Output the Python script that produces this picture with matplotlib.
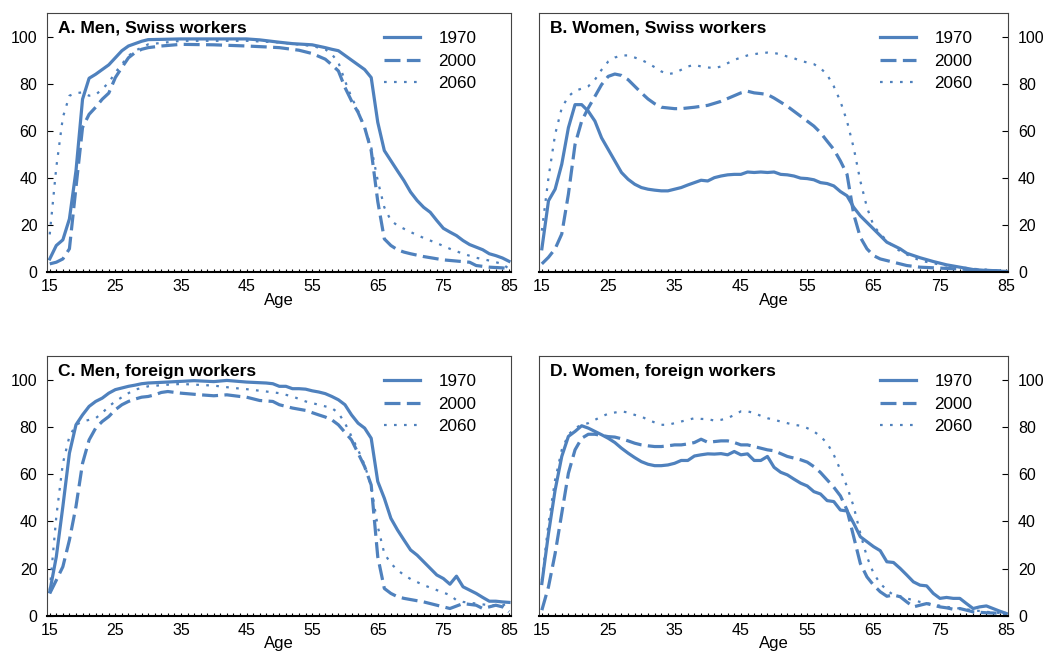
import matplotlib.pyplot as plt
from matplotlib.ticker import MultipleLocator

# Panel A - men, Swiss workers
a70_age = [15, 16, 17, 18, 19, 20, 21, 22, 23, 24, 25, 26, 27, 28, 29, 30, 35, 40, 45, 47, 50, 52, 55, 57, 58, 59, 60, 61, 62, 63, 64, 65, 66, 67, 68, 69, 70, 71, 72, 73, 74, 75, 76, 77, 78, 79, 80, 81, 82, 83, 84, 85]
a70 = [5.6, 11.3, 13.7, 22.6, 43, 73.4, 82.3, 84, 86, 88, 91, 94, 96, 97, 98, 98.7, 99, 99, 99, 98.6, 97.6, 97, 96.5, 95.3, 94.6, 94, 92, 90, 88, 86, 82.6, 63.6, 51.6, 47.3, 43, 38.8, 34, 30.4, 27.5, 25.4, 21.9, 18.6, 17, 15.5, 13.4, 11.7, 10.6, 9.5, 7.8, 7, 6, 4.6]
a00_age = [15, 16, 17, 18, 19, 20, 21, 22, 23, 24, 25, 26, 27, 28, 29, 30, 32, 35, 40, 45, 48, 50, 53, 55, 57, 58, 59, 60, 61, 62, 63, 64, 65, 66, 67, 68, 69, 70, 72, 75, 77, 79, 80, 82, 84, 85]
a00 = [3.5, 4.2, 5.6, 9.9, 36, 61.4, 67, 70, 73.4, 76, 82.6, 86.9, 91, 93.2, 94.6, 95.3, 96, 96.7, 96.5, 96, 95.6, 95.3, 94.2, 92.8, 90.4, 88, 85.4, 78.4, 72.7, 67.8, 61.4, 51.6, 30, 14.1, 11.3, 9.5, 8.5, 7.8, 6.6, 5.2, 4.7, 4.2, 2.8, 2.1, 1.8, 1.4]
a60_age = [15, 16, 17, 18, 19, 20, 21, 22, 23, 24, 25, 26, 27, 28, 29, 30, 35, 40, 45, 50, 55, 57, 58, 59, 60, 61, 62, 63, 64, 65, 66, 67, 68, 69, 70, 72, 74, 76, 78, 80, 82, 84, 85]
a60 = [16, 44.5, 65.7, 74.9, 76, 76.3, 74.9, 75.3, 77.7, 80.5, 84.7, 88.3, 91.8, 94, 95.3, 96.7, 98.2, 98.2, 98.2, 97.5, 96, 94.6, 92.5, 89, 81.2, 74.2, 68.5, 61.4, 53, 38.8, 27.5, 21.9, 19.8, 18.4, 17, 14.5, 12.3, 9.9, 7.8, 6.1, 4.9, 3.5, 1.4]

# Panel B - women, Swiss workers
b70_age = list(range(15, 71)) + [72, 74, 76, 78, 80, 82, 85]
b70 = [9.9, 30.3, 35.2, 45.8, 61.3, 71.1, 71.1, 68.3, 64.1, 57, 52.1, 47.2, 42.3, 39.4, 37.3, 35.9, 35.2, 34.8, 34.5, 34.5,
       35.2, 35.9, 37, 38, 39, 38.7, 40.1, 40.8, 41.3, 41.5, 41.5, 42.5, 42.3, 42.5, 42.3, 42.5, 41.5, 41.3, 40.8, 39.9,
       39.7, 39.2, 38, 37.6, 36.6, 34.2, 32.4, 27.5, 23.9, 21.1, 18.3, 15.5, 12.7, 11.3, 9.9, 8,
       6.1, 4.5, 3.1, 2.1, 1.1, 0.7, 0.3]
b00_age = list(range(15, 41)) + [42, 44, 45, 46, 47, 48, 49, 50, 52, 54, 56, 57, 58, 59, 60, 61, 62, 63, 64, 65, 66, 67, 68, 70, 72, 75, 78, 80, 85]
b00 = [3.5, 6.3, 9.9, 16.2, 33.1, 54.2, 64.1, 69.7, 74.6, 79.6, 83.1, 84.1, 83.5, 81.7, 78.9, 76.1, 73.5, 71.5, 70, 69.7,
       69.4, 69.4, 69.7, 70, 70.4, 70.8,
       72.5, 74.9, 76.1, 76.8, 76.1, 75.8, 75.4, 73.9, 70.4, 66.2, 62, 59.2, 55.6, 52.1, 47.2, 41.5, 24.6, 14.8, 9.9, 7,
       5.6, 4.9, 4.2, 2.8, 2.1, 1.7, 1.3, 1, 0.4]
b60_age = list(range(15, 71)) + [72, 75, 78, 80, 85]
b60 = [17.6, 40.1, 58.5, 69.7, 74.6, 77, 77.9, 78.9, 81.7, 85.9, 89.4, 91.1, 92, 92, 91.1, 90.1, 88.7, 87, 85.2, 84.1,
       84.5, 85.9, 87.3, 88, 87.3, 86.9, 86.6, 87.3, 88.7, 90.1, 91.1, 92, 92.5, 93, 93.2, 93, 92.5, 91.5, 90.8, 89.7,
       89, 88.3, 86.6, 83.8, 78.9, 72.5, 64, 52.8, 38.7, 27.5, 19.7, 16.2, 13.4, 10.8, 8.9, 7.5,
       4.9, 3.2, 2.1, 1.4, 0.4]

# Panel C - men, foreign workers
c70_age = list(range(15, 31)) + [35, 37, 40, 42, 45, 48] + list(range(49, 86))
c70 = [10.2, 25, 46.3, 68.9, 80.9, 85.1, 88.7, 90.8, 92.2, 94.3, 95.8, 96.5, 97.2, 97.7, 98.3, 98.6,
       99.3, 99.6, 99.2, 99.7, 99, 98.6,
       98.3, 97.2, 97.2, 96.2, 96.2, 96, 95.3, 94.8, 94.1, 92.9, 91.5, 89.4, 85.1, 81.6, 79.5, 75.2, 56.9, 49.8, 41.3,
       36.4, 32.1, 27.9, 25.7, 22.9, 20.1, 17.3, 15.8, 13.4, 16.8, 12.3, 10.9, 9.5, 7.8, 6.2, 6.2, 5.9, 5.7]
c00_age = list(range(15, 34)) + [35, 38, 40, 42, 44, 45, 47, 49, 50, 52, 54, 56] + list(range(57, 71)) + [72, 74, 75, 76, 78, 80, 81, 82, 83, 84, 85]
c00 = [9.5, 15.1, 20.8, 32.1, 46.3, 64.6, 74.5, 79.5, 82.3, 84.4, 87.3, 89.4, 90.8, 91.8, 92.6, 92.9, 93.6, 94.6, 95,
       94.3, 93.6, 93.2, 93.6, 92.9, 92.6, 91.2, 90.8, 89.4, 88, 87, 85.1,
       84.2, 83, 80.9, 77.7, 74.5, 68.9, 63.2, 55.4, 25, 11.6, 9.5, 8.1, 7.4, 6.9,
       5.9, 4.5, 3.8, 3.1, 5.2, 4.5, 3.1, 3.8, 4.5, 3.8, 1.7]
c60_age = list(range(15, 31)) + [33, 35, 40, 43, 45, 48, 50, 52, 54, 56, 58] + list(range(59, 71)) + [72, 74, 76, 77, 78, 80, 82, 84, 85]
c60 = [10.9, 42, 64.6, 76, 80.9, 82.3, 83, 83.7, 85.9, 88.7, 90.8, 92.6, 94.3, 95.8, 96.5, 97.2,
       97.9, 98.2, 97.5, 96.5, 96, 95, 94.3, 92.9, 90.8, 89.4, 88,
       85.9, 81.6, 76, 70.3, 63.9, 54.7, 37.8, 26.4, 22.2, 19.4, 17.3, 15.6,
       13, 10.9, 8.8, 6.6, 5.9, 5.2, 4.5, 4.5, 5.2]

# Panel D - women, foreign workers
d70_age = list(range(15, 86))
d70 = [13.7, 34.9, 53.3, 67.5, 76, 78.1, 80.5, 79.5, 78.1, 76.7, 75.2, 73.4, 71, 68.9, 67, 65.3, 64.2, 63.6, 63.6, 63.9,
       64.6, 65.8, 65.8, 67.7, 68.2, 68.6, 68.5, 68.7, 68.2, 69.6, 68.2, 68.6, 65.8, 65.8, 67.5, 62.9, 60.8, 59.7, 57.9, 56.2,
       55, 52.6, 51.6, 48.8, 48.4, 44.8, 44.4, 39.2, 33.5, 31.4, 29.3, 27.6, 22.9, 22.6, 20.1, 17.3, 14.4, 13, 12.7, 9.5,
       7.4, 7.8, 7.4, 7.4, 5.2, 3.1, 3.8, 4.2, 3.1, 2, 1]
d00_age = list(range(15, 51)) + [52, 54] + list(range(55, 79)) + [80, 82, 85]
d00 = [2.4, 12.3, 26.4, 43.4, 60.4, 70.3, 75.2, 76.9, 76.9, 76.4, 75.9, 75.7, 75, 74.1, 73.1, 72.4, 72, 71.7, 71.7, 72,
       72.4, 72.4, 72.8, 73.4, 74.8, 73.5, 73.8, 74.1, 74.1, 73.4, 72.4, 72.4, 71.7, 71, 70.3, 69.9,
       67.5, 66.1,
       65.1, 63.2, 60.7, 57.6, 54.5, 50.8, 44.8, 33.5, 22.2, 16.5, 13, 10.2, 8.3, 8.8, 8.1, 5.9, 3.8, 4.5, 5.2, 4.5,
       3.8, 3.4, 2.8, 3.1, 1.7, 1.3, 1]
d60_age = list(range(15, 73)) + [74, 76, 78, 80, 82, 85]
d60 = [15.1, 39.2, 57.6, 70.3, 76.7, 79.5, 80.9, 81.6, 83, 84.4, 85.6, 86.1, 86.6, 86.1, 85.1, 84.4, 83, 81.9, 80.9, 80.9,
       81.6, 82.3, 83, 83.7, 83.4, 83.3, 82.7, 83, 83.7, 85.1, 86.6, 86.6, 85.9, 84.7, 83.7, 83, 82.3, 81.6, 80.9, 80.5,
       79.5, 78.1, 76, 73.1, 68.2, 61.8, 54.7, 46.3, 34.9, 25, 18, 13.7, 10.9, 8.8, 8.3, 7.4, 6.6, 5.9,
       4.8, 3.8, 3.1, 2.4, 1.7, 1]

panel_titles = ['A. Men, Swiss workers', 'B. Women, Swiss workers',
                'C. Men, foreign workers', 'D. Women, foreign workers']
years = ['1970', '2000', '2060']
x_ticks = [15, 25, 35, 45, 55, 65, 75, 85]
y_ticks = [0, 20, 40, 60, 80, 100]

panels = [
    [(a70_age, a70), (a00_age, a00), (a60_age, a60)],
    [(b70_age, b70), (b00_age, b00), (b60_age, b60)],
    [(c70_age, c70), (c00_age, c00), (c60_age, c60)],
    [(d70_age, d70), (d00_age, d00), (d60_age, d60)],
]

plt.rcParams['font.family'] = ['Liberation Sans', 'DejaVu Sans']
blue = '#4f81bd'

fig = plt.figure(figsize=(10.47, 6.51), dpi=100)
boxes = [
    [0.045, 0.582, 0.443, 0.398],
    [0.515, 0.582, 0.448, 0.398],
    [0.045, 0.054, 0.443, 0.399],
    [0.515, 0.054, 0.448, 0.399],
]

for i in range(4):
    ax = fig.add_axes(boxes[i])
    s70, s00, s60 = panels[i]
    ax.plot(s70[0], s70[1], color=blue, lw=2.3, label=years[0])
    ax.plot(s00[0], s00[1], color=blue, lw=2.3, dashes=(5, 2), label=years[1])
    ax.plot(s60[0], s60[1], color=blue, lw=1.6, dashes=(1.2, 3.3), label=years[2])

    ax.set_xlim(14.6, 85.3)
    ax.set_ylim(0, 110)
    ax.set_xticks(x_ticks)
    ax.xaxis.set_minor_locator(MultipleLocator(1))
    ax.set_yticks(y_ticks)
    ax.tick_params(axis='x', which='both', direction='in', length=2.5, width=0.8,
                   labelsize=11.5, pad=5)
    ax.tick_params(axis='y', direction='in', length=4, width=0.8, labelsize=11.5, pad=7)
    if i % 2 == 1:
        ax.yaxis.tick_right()
        ax.tick_params(axis='y', which='both', left=False, right=True)

    for side in ['top', 'left', 'right']:
        ax.spines[side].set_color('#444444')
        ax.spines[side].set_linewidth(0.8)
    ax.spines['bottom'].set_color('black')
    ax.spines['bottom'].set_linewidth(1.5)

    ax.set_xlabel('Age', fontsize=12, labelpad=-1)
    ax.text(0.024, 0.942, panel_titles[i], transform=ax.transAxes, fontsize=12.6,
            fontweight='bold', va='center', ha='left')
    ax.legend(loc='upper left', bbox_to_anchor=(0.693, 0.99), frameon=False,
              fontsize=12.3, handlelength=2.1, handletextpad=1.1, labelspacing=0.45)

fig.savefig('out.png', dpi=100)
